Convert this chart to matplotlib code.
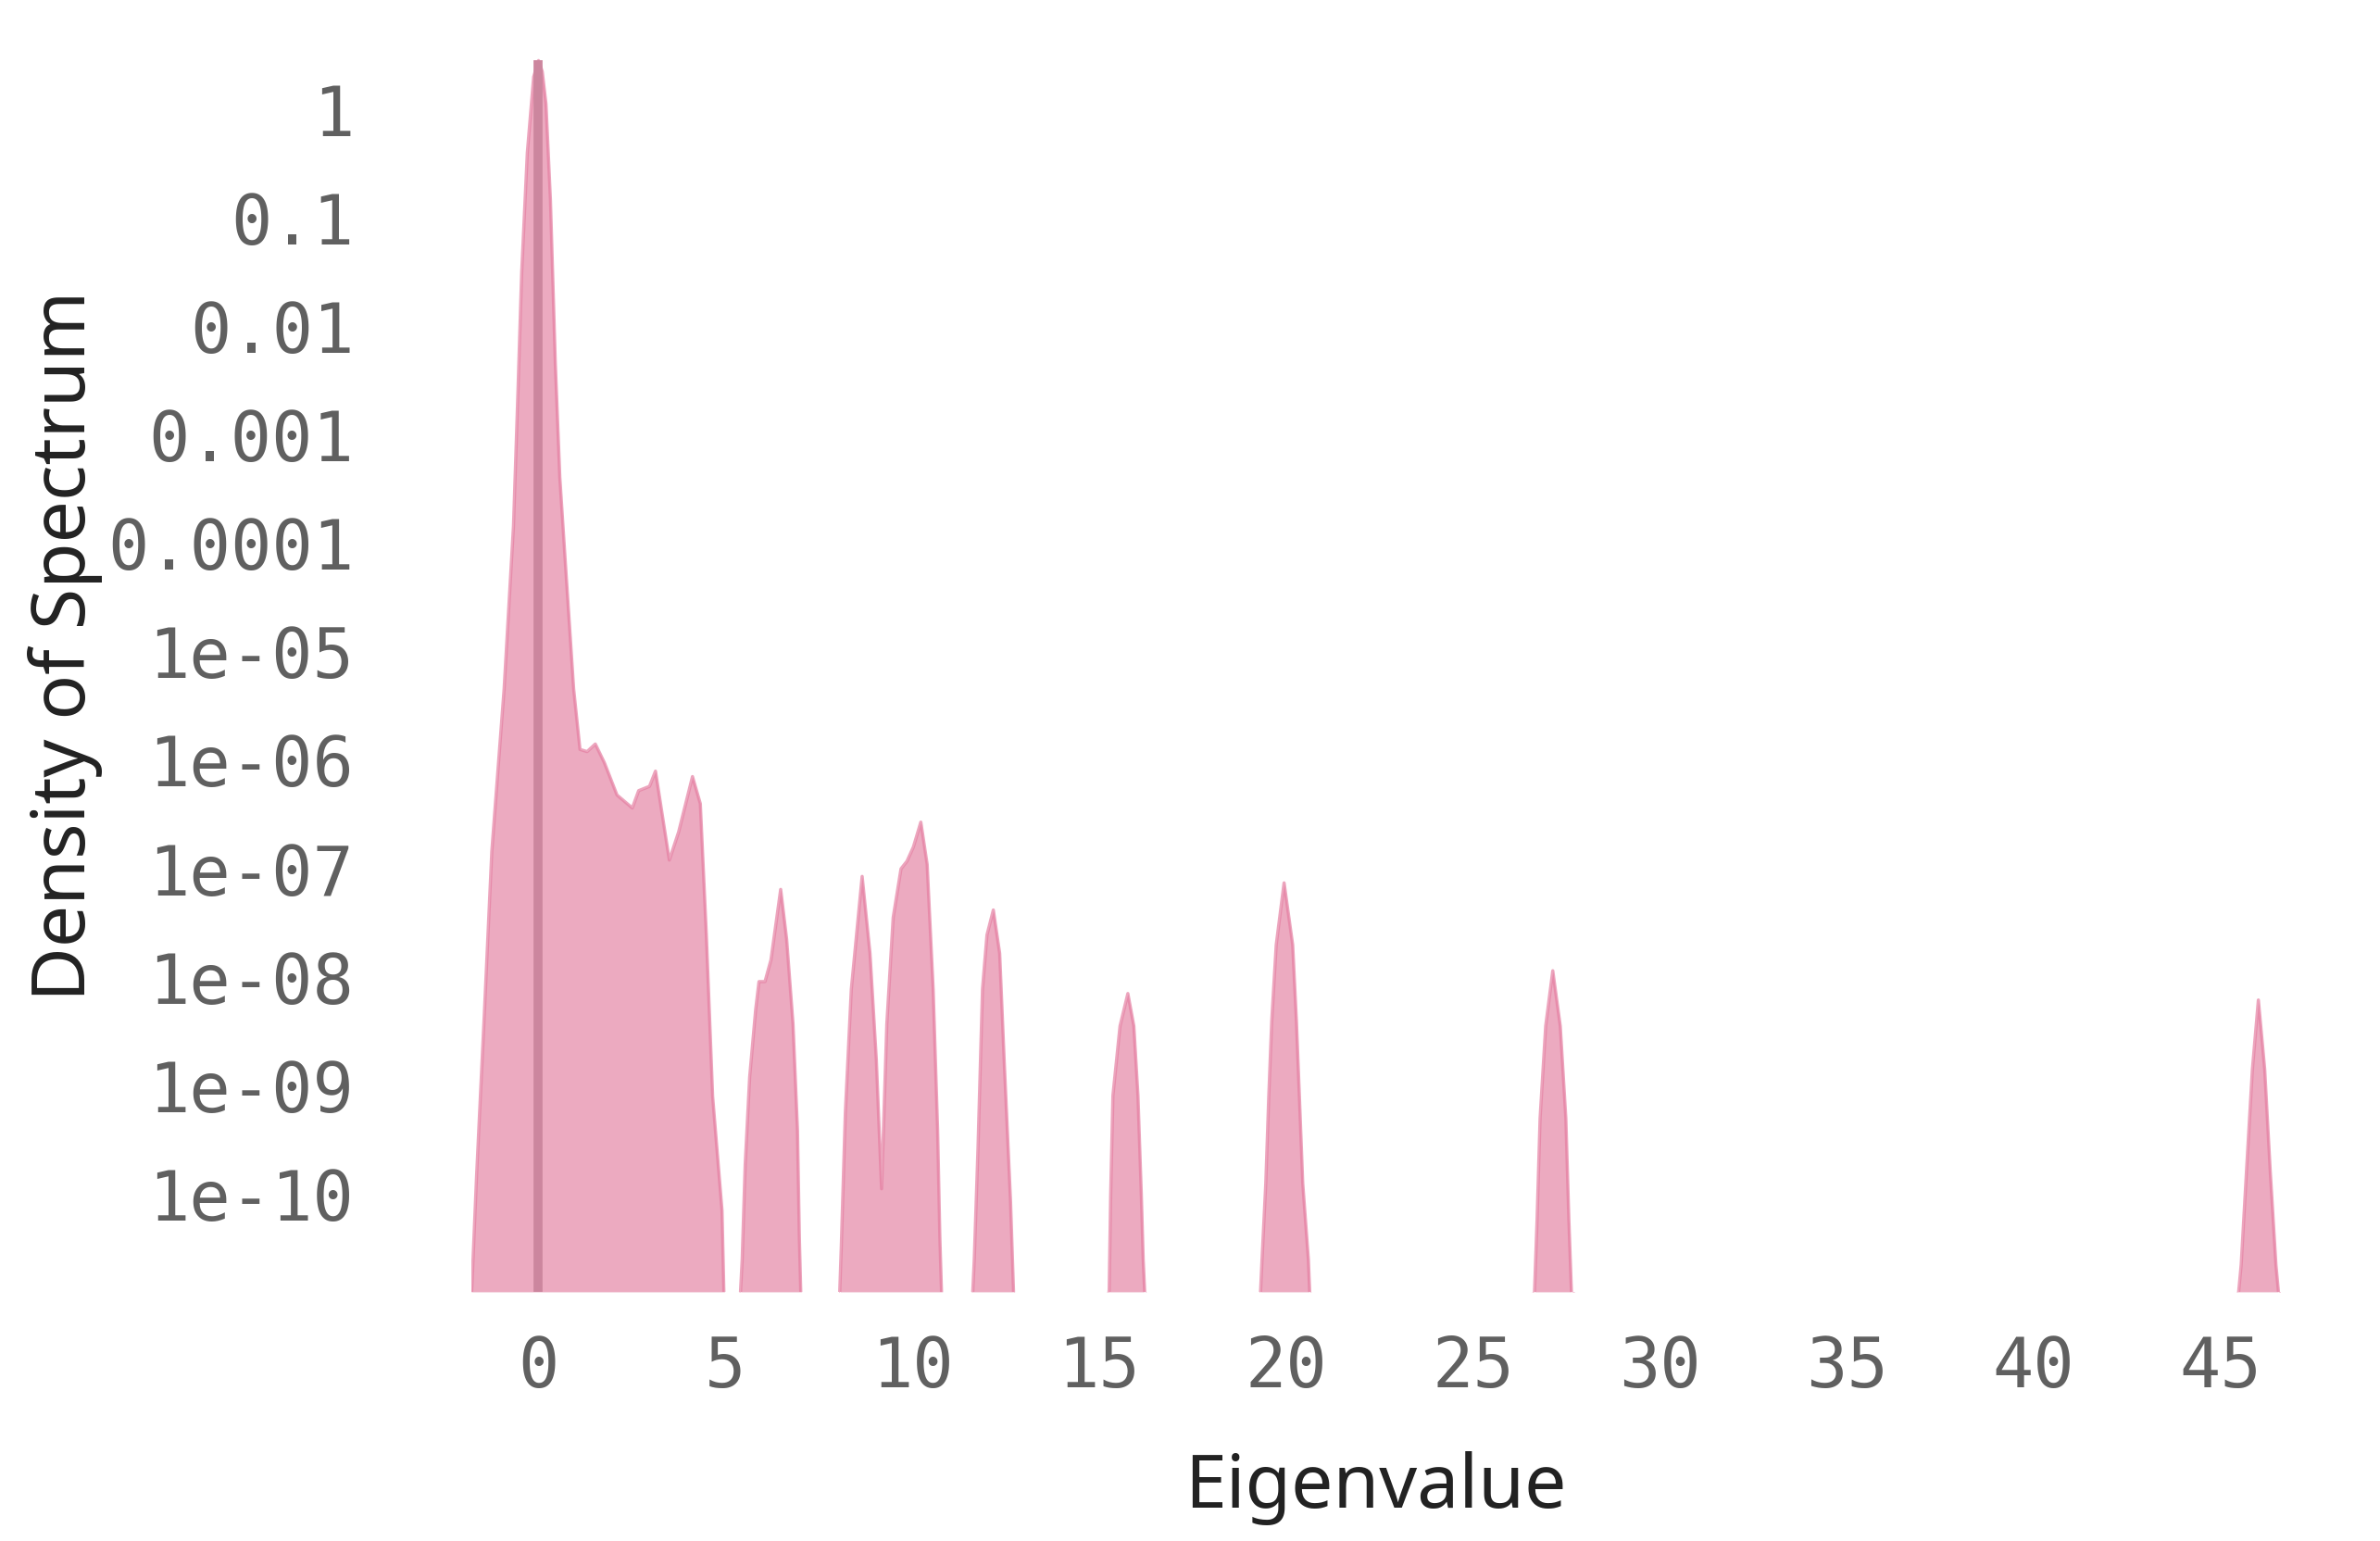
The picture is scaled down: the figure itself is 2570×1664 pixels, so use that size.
import numpy as np
import matplotlib
matplotlib.use('Agg')
import matplotlib.pyplot as plt

# eigenvalue grid points, one list per cluster
x_main = [-1.84, -1.78, -1.66, -1.45, -1.25, -0.92, -0.67, -0.55, -0.45, -0.30, -0.13, 0.0,
          0.10, 0.20, 0.32, 0.45, 0.57, 0.74, 0.94, 1.11, 1.30, 1.52, 1.76, 2.10, 2.51,
          2.68, 2.97, 3.13, 3.50, 3.75, 4.12, 4.33, 4.49, 4.66, 4.91, 4.98]
logd_main = [-11.2, -10.83, -9.85, -8.34, -6.84, -5.34, -3.84, -2.60, -1.50, -0.40, 0.30, 0.45,
             0.35, 0.05, -0.84, -2.34, -3.39, -4.29, -5.34, -5.90, -5.92, -5.85, -6.02, -6.32, -6.44,
             -6.28, -6.24, -6.10, -6.92, -6.66, -6.15, -6.40, -7.60, -9.10, -10.15, -11.2]

x_p6 = [5.36, 5.45, 5.53, 5.65, 5.81, 5.90, 6.06, 6.22, 6.48, 6.64, 6.81, 6.93, 6.98, 7.04]
logd_p6 = [-11.2, -10.6, -9.73, -8.92, -8.30, -8.04, -8.04, -7.84, -7.19, -7.65, -8.43, -9.41, -10.4, -11.2]

x_p9 = [8.03, 8.10, 8.21, 8.37, 8.66, 8.87, 9.04, 9.18, 9.32, 9.49, 9.70, 9.86, 10.03,
        10.23, 10.40, 10.56, 10.68, 10.74, 10.81]
logd_p9 = [-11.2, -10.5, -9.25, -8.11, -7.07, -7.78, -8.76, -9.95, -8.43, -7.45, -7.00, -6.93, -6.80,
           -6.57, -6.96, -8.11, -9.41, -10.4, -11.2]

x_p12 = [11.58, 11.66, 11.76, 11.88, 12.00, 12.17, 12.34, 12.46, 12.63, 12.74]
logd_p12 = [-11.2, -10.6, -9.57, -8.11, -7.61, -7.38, -7.78, -8.76, -10.06, -11.2]

x_p16 = [15.20, 15.27, 15.31, 15.37, 15.56, 15.77, 15.93, 16.04, 16.13, 16.18, 16.26]
logd_p16 = [-11.2, -10.88, -10.0, -9.09, -8.45, -8.15, -8.45, -9.09, -10.0, -10.6, -11.2]

x_p20 = [19.28, 19.36, 19.46, 19.54, 19.62, 19.74, 19.95, 20.18, 20.28, 20.36, 20.45, 20.60, 20.67]
logd_p20 = [-11.2, -10.60, -9.90, -9.10, -8.40, -7.70, -7.13, -7.70, -8.40, -9.10, -9.90, -10.60, -11.2]

x_p27 = [26.58, 26.65, 26.72, 26.80, 26.95, 27.14, 27.34, 27.49, 27.57, 27.64, 27.72]
logd_p27 = [-11.2, -10.91, -10.23, -9.30, -8.45, -7.94, -8.45, -9.30, -10.23, -10.91, -11.2]

x_p46 = [45.43, 45.49, 45.56, 45.70, 45.86, 46.02, 46.19, 46.34, 46.49, 46.56, 46.62]
logd_p46 = [-11.2, -10.91, -10.65, -9.80, -8.85, -8.21, -8.85, -9.80, -10.65, -10.91, -11.2]

clusters = [(x_main, logd_main), (x_p6, logd_p6), (x_p9, logd_p9), (x_p12, logd_p12),
            (x_p16, logd_p16), (x_p20, logd_p20), (x_p27, logd_p27), (x_p46, logd_p46)]

xticks = [0, 5, 10, 15, 20, 25, 30, 35, 40, 45]
yticks = [1, 1e-1, 1e-2, 1e-3, 1e-4, 1e-5, 1e-6, 1e-7, 1e-8, 1e-9, 1e-10]
ytick_labels = ['1', '0.1', '0.01', '0.001', '0.0001', '1e-05', '1e-06',
                '1e-07', '1e-08', '1e-09', '1e-10']

floor = 10 ** -10.9
fill_color = '#ecaac0'
edge_color = '#e57fa2'

fig = plt.figure(figsize=(25.7, 16.64), dpi=100)
ax = fig.add_axes([0.198, 0.1617, 0.760, 0.8025])
ax.set_yscale('log')

for xs, logs in clusters:
    xs = np.array(xs)
    dens = 10.0 ** np.array(logs)
    ax.fill_between(xs, floor, dens, color=fill_color, lw=0)
    ax.plot(xs, dens, color=edge_color, lw=2.5, alpha=0.7)

# the spike at zero eigenvalue
dens_main = 10.0 ** np.array(logd_main)
i_peak = int(np.argmax(dens_main))
ax.vlines(x_main[i_peak], floor, dens_main[i_peak], color='#cc869e', lw=7)

ax.set_xlim(-1.8, 46.6)
ax.set_ylim(floor, 10 ** 0.5)
ax.set_xticks(xticks)
ax.set_xticklabels([str(t) for t in xticks])
ax.set_yticks(yticks)
ax.set_yticklabels(ytick_labels)
ax.minorticks_off()
ax.tick_params(axis='both', length=0, labelcolor='#606060', labelsize=53)
ax.tick_params(axis='y', pad=91)
ax.tick_params(axis='x', pad=33)
for lab in ax.get_xticklabels() + ax.get_yticklabels():
    lab.set_family('DejaVu Sans Mono')

for s in ax.spines.values():
    s.set_visible(False)

ax.set_xlabel('Eigenvalue', family='Noto Sans', fontsize=58, color='#222222')
ax.set_ylabel('Density of Spectrum', family='Noto Sans', fontsize=58, color='#222222')
ax.xaxis.label.set_va('baseline')
ax.xaxis.set_label_coords(0.5, -0.1744)
ax.yaxis.label.set_va('baseline')
ax.yaxis.set_label_coords(-0.2135, 0.522)

fig.savefig('out.png', dpi=100)
